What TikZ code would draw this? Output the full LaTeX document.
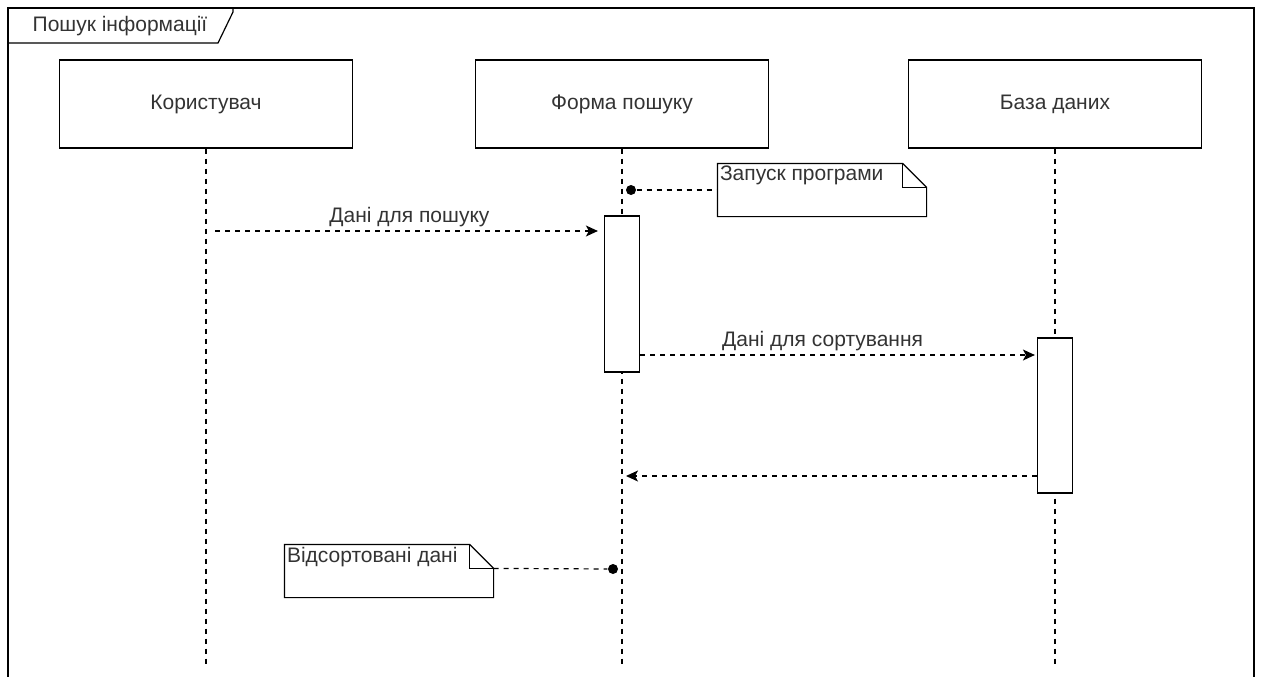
\documentclass[tikz,border=0pt]{standalone}
\usepackage{fontspec}
\setmainfont{Liberation Sans}
\usetikzlibrary{arrows.meta,positioning}

\begin{document}
\begin{tikzpicture}[x=1pt,y=-1pt,node distance=416pt,line width=1.2pt,
    every node/.style={font=\fontsize{21}{25}\selectfont,text=black!80},
    head/.style={draw,rectangle,minimum width=293pt,minimum height=88pt},
    act/.style={draw,rectangle,fill=white,minimum width=35pt},
    note/.style={rectangle,minimum width=208pt,minimum height=52pt},
    notetext/.style={anchor=north west,inner sep=2pt},
    dot/.style={circle,fill=black,inner sep=0pt,minimum size=10pt},
    life/.style={dash pattern=on 5pt off 5pt},
    msg/.style={dash pattern=on 5pt off 5pt,-{Stealth[length=12pt,width=11pt,inset=3pt]}}]
    \useasboundingbox (0,0) rectangle (1261,677);

    % frame
    \draw (8,677) -- (8,8) -- (1254,8) -- (1254,677);
    \draw (8,43) -- (218,43) -- (233,12) -- (233,8);
    \node (title) at (120,26) {Пошук інформації};

    % lifelines
    \node[head] (user) at (206,104) {Користувач};
    \node[head] (form) [right of=user] {Форма пошуку};
    \node[head] (db) [right of=form, xshift=17pt] {База даних};
    \foreach \n in {user,form,db}
        \draw[life] (\n.south) -- (\n.south |- 0,667);

    \node[act, minimum height=156pt] (formact) at (622,294) {};
    \node[act, minimum height=155pt] (dbact) at (1055,415.5) {};

    % notes
    \node[note] (launch) at (822,190) {};
    \node[notetext] at (launch.north west) {Запуск програми};
    \node[note] (sorted) at (389,571) {};
    \node[notetext] at (sorted.north west) {Відсортовані дані};
    \foreach \n in {launch,sorted} {
        \draw (\n.north west) -- ([xshift=-24pt]\n.north east)
            -- ([yshift=-24pt]\n.north east) -- (\n.south east)
            -- (\n.south west) -- cycle;
        \draw ([xshift=-24pt]\n.north east) -- ([xshift=-24pt,yshift=-24pt]\n.north east)
            -- ([yshift=-24pt]\n.north east);
    }
    \node[dot] (d1) at (631,190) {};
    \node[dot] (d2) at (613,569) {};
    \draw[life] (d1) -- (launch.west);
    \draw[life] ([yshift=-24pt]sorted.north east) -- (d2);

    % messages
    \draw[msg, shorten >=6pt] ([xshift=9pt]user.south |- 0,231) -- (formact.west |- 0,231)
        node[midway, above] {Дані для пошуку};
    \draw[msg, shorten >=2pt] (formact.east |- 0,355) -- (dbact.west |- 0,355)
        node[pos=0.46, above] {Дані для сортування};
    \draw[msg, shorten >=4pt] (dbact.west |- 0,476) -- (form.south |- 0,476);
\end{tikzpicture}
\end{document}
